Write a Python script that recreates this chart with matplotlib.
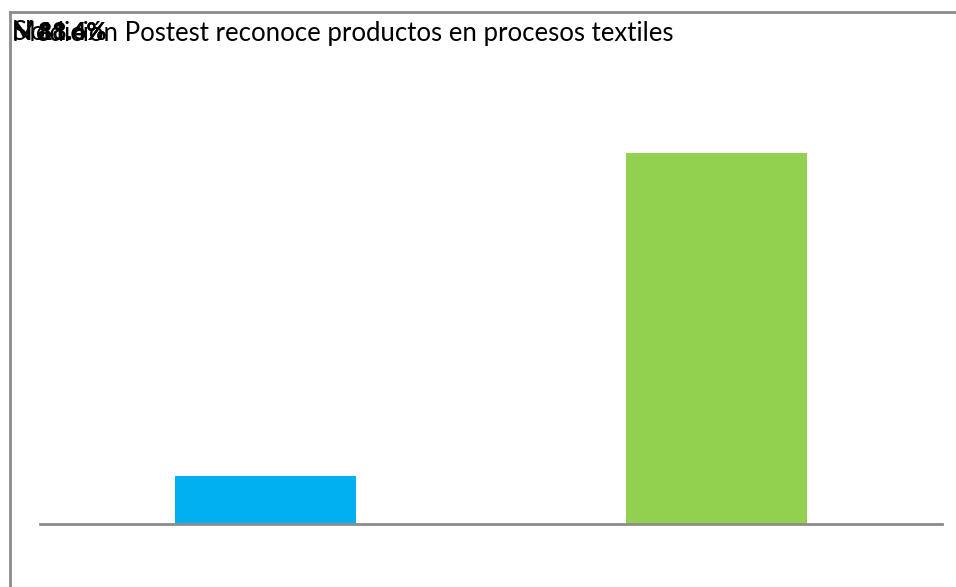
import matplotlib
matplotlib.use("Agg")
import matplotlib.pyplot as plt
from matplotlib.lines import Line2D

categories = ["Sí", "No"]
values = [11.4, 88.6]
value_labels = ["11.4%", "88.6%"]
colors = ["#00B0F0", "#92D050"]
title = "Medición Postest reconoce productos en procesos textiles"

W, H = 956, 587
fig = plt.figure(figsize=(W / 100, H / 100), dpi=100)
fig.patch.set_facecolor("white")

# outer frame (top and left edges)
fig.add_artist(Line2D([10 / W, 10 / W], [0, 1 - 12 / H], transform=fig.transFigure,
                      color="#8c8c8c", lw=2))
fig.add_artist(Line2D([10 / W, 1], [1 - 12 / H, 1 - 12 / H], transform=fig.transFigure,
                      color="#8c8c8c", lw=2))

ax = fig.add_axes([40 / W, (H - 524) / H, (942 - 40) / W, (524 - 105) / H])
x = range(len(categories))
ax.bar(x, values, width=0.4, color=colors)
ax.set_xlim(-0.5, len(categories) - 0.5)
ax.set_ylim(0, 100)
for s in ["top", "right", "left"]:
    ax.spines[s].set_visible(False)
ax.spines["bottom"].set_color("#8c8c8c")
ax.spines["bottom"].set_linewidth(2)
ax.set_xticks([])
ax.set_yticks([])
ax.patch.set_alpha(0)

# title and labels stacked at the top-left corner
font = "Lato"
ty = 1 - 33 / H
t = fig.text(12 / W, ty, title, fontsize=18, family=font, va="center", ha="left")
fig.canvas.draw()
w = t.get_window_extent().width
t.set_fontsize(18 * (660 / w))
for c in categories:
    fig.text(12 / W, ty, c, fontsize=t.get_fontsize(), family=font, va="center", ha="left")
for lab in value_labels:
    fig.text(38 / W, ty, lab, fontsize=t.get_fontsize() * 0.95, family=font,
             fontweight="bold", va="center", ha="left")

fig.savefig("out.png", dpi=100)
